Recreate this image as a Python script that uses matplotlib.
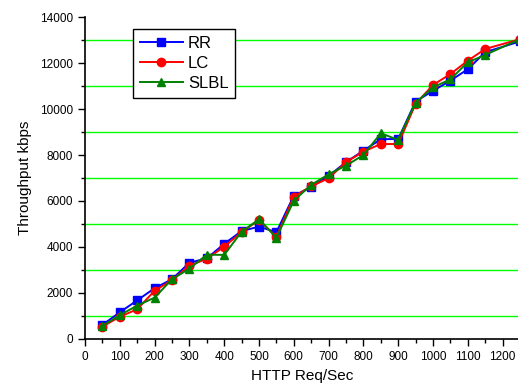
import matplotlib
matplotlib.use("Agg")
import matplotlib.pyplot as plt
from matplotlib.ticker import MultipleLocator

plt.rcParams["font.family"] = ["Liberation Sans", "DejaVu Sans"]

# %% Data

req_per_sec = [50, 100, 150, 200, 250, 300, 350, 400, 450, 500, 550, 600,
               650, 700, 750, 800, 850, 900, 950, 1000, 1050, 1100, 1150, 1250]
rr = [600, 1150, 1670, 2200, 2590, 3310, 3500, 4130, 4690, 4880, 4640, 6230,
      6600, 7090, 7690, 8190, 8690, 8700, 10330, 10800, 11240, 11740, 12480, 12950]
lc = [520, 960, 1280, 2090, 2550, 3180, 3480, 4010, 4640, 5170, 4440, 6190,
      6640, 6990, 7690, 8150, 8480, 8480, 10230, 11050, 11530, 12110, 12620, 13050]
slbl = [550, 1030, 1440, 1790, 2590, 3050, 3660, 3650, 4660, 5200, 4400, 6010,
        6700, 7160, 7540, 8000, 8950, 8660, 10280, 10950, 11300, 12040, 12360, 13050]

series = [
    ("RR", rr, "#0000ff", "s"),
    ("LC", lc, "#ff0000", "o"),
    ("SLBL", slbl, "#008000", "^"),
]

# %% Plot

fig = plt.figure(figsize=(5.18, 3.88), dpi=100)
ax = fig.add_axes([85 / 518, 49.3 / 388, 435 / 518, 321.4 / 388])

for name, vals, color, marker in series:
    ax.plot(req_per_sec, vals, color=color, marker=marker, markersize=6,
            linewidth=1.4, label=name)

ax.set_xlim(0, 1250)
ax.set_ylim(0, 14000)
ax.xaxis.set_major_locator(MultipleLocator(100))
ax.xaxis.set_minor_locator(MultipleLocator(50))
ax.yaxis.set_major_locator(MultipleLocator(2000))
ax.yaxis.set_minor_locator(MultipleLocator(1000))
ax.tick_params(which="major", direction="out", length=5, width=1, labelsize=8.5)
ax.tick_params(which="minor", direction="out", length=3, width=1)

ax.grid(which="minor", axis="y", color="#00ff00", linewidth=1)
ax.set_axisbelow(True)

for side in ["top", "right"]:
    ax.spines[side].set_visible(False)
ax.spines["left"].set_linewidth(1.2)
ax.spines["bottom"].set_linewidth(1.2)

ax.set_xlabel("HTTP Req/Sec", fontsize=11, labelpad=5)
ax.set_ylabel("Throughput kbps", fontsize=11, labelpad=6)

leg = ax.legend(loc="upper left", bbox_to_anchor=(0.11, 0.963), fontsize=12,
                frameon=True, fancybox=False, framealpha=1, edgecolor="black",
                handlelength=2.6, borderpad=0.4, labelspacing=0.3,
                handletextpad=0.3, borderaxespad=0)
leg.get_frame().set_linewidth(1)

fig.savefig("out.png", dpi=100)
